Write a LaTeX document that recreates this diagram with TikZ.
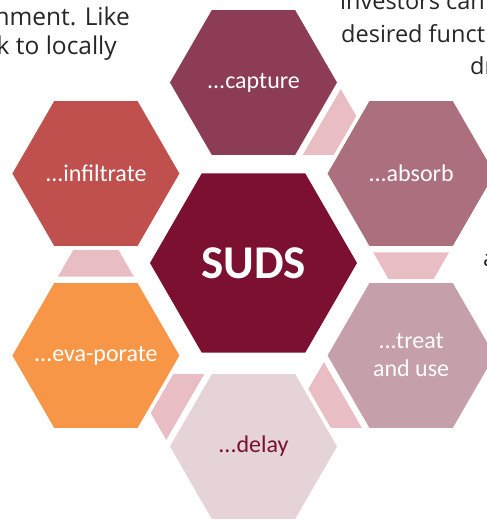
\documentclass[tikz,border=0pt]{standalone}
\usepackage{fontspec}
\setmainfont{Carlito}
\newfontfamily\pagefont{Open Sans}
\usetikzlibrary{shapes.geometric,calc}
\definecolor{sudscol}{HTML}{7B1030}
\definecolor{capcol}{HTML}{8C3D55}
\definecolor{infcol}{HTML}{C0504D}
\definecolor{abscol}{HTML}{AC6F7E}
\definecolor{evacol}{HTML}{F79646}
\definecolor{treatcol}{HTML}{C59FA9}
\definecolor{delaycol}{HTML}{E5D3D7}
\definecolor{linkpink}{HTML}{E8BEC4}
\definecolor{textgray}{HTML}{262626}

\begin{document}
\begin{tikzpicture}[x=1pt,y=1pt,
  hexa/.style={regular polygon,regular polygon sides=6,minimum size=167,inner sep=0,outer sep=0},
  hexlabel/.style={inner sep=0,text=white,align=center,font=\fontsize{24}{28}\selectfont},
  link/.style={fill=linkpink},
  page/.style={inner sep=0,text=textgray,font=\pagefont\fontsize{23.5}{32}\selectfont}]
\useasboundingbox (0,0) rectangle (487,520);
\clip (0,0) rectangle (487,520);

% text of the page around the figure
\node[page,font=\pagefont\fontsize{24.5}{32}\selectfont,anchor=base east] (lineA) at (130,494) {onment. Like};
\node[page,font=\pagefont\fontsize{24.5}{32}\selectfont,anchor=base east] (lineB) at (117,465) {k to locally};
\node[page,anchor=base west] (lineC) at (340,510) {investors can};
\node[page,anchor=base west] (lineD) at (341,477) {desired funct};
\node[page,anchor=base west] (lineE) at (470,445) {dr};
\node[page,anchor=base west] (lineF) at (483,253) {a};

% hexagons
\node[hexa,minimum size=207,fill=sudscol,label={[hexlabel,font=\bfseries\fontsize{47}{50}\selectfont]center:SUDS}] (suds) at (253.5,257) {};
\node[hexa,fill=capcol,label={[hexlabel]center:...capture}] (capture) at (253.5,437.5) {};
\node[hexa,fill=abscol,label={[hexlabel]center:...absorb}] (absorb) at (411.1,346.5) {};
\node[hexa,fill=treatcol,label={[hexlabel]center:{...treat\\and use}}] (treat) at (411.1,164.5) {};
\node[hexa,fill=delaycol,label={[hexlabel,text=sudscol]center:...delay}] (delay) at (253.5,73.5) {};
\node[hexa,fill=evacol,label={[hexlabel]center:...eva-porate}] (evaporate) at (95.9,164.5) {};
\node[hexa,fill=infcol,label={[hexlabel]center:...infiltrate}] (infiltrate) at (95.9,346.5) {};

% links between neighbours
\fill[link] ($(capture)+(-55.7:87.5)$) -- ($(capture)+(-4.3:87.5)$) -- ($(capture)+(-18:108.1)$) -- ($(capture)+(-42:108.1)$) -- cycle;
\fill[link] ($(absorb)+(-115.7:87.5)$) -- ($(absorb)+(-64.3:87.5)$) -- ($(absorb)+(-78:108.1)$) -- ($(absorb)+(-102:108.1)$) -- cycle;
\fill[link] ($(treat)+(-175.7:87.5)$) -- ($(treat)+(-124.3:87.5)$) -- ($(treat)+(-138:108.1)$) -- ($(treat)+(-162:108.1)$) -- cycle;
\fill[link] ($(delay)+(124.3:87.5)$) -- ($(delay)+(175.7:87.5)$) -- ($(delay)+(162:108.1)$) -- ($(delay)+(138:108.1)$) -- cycle;
\fill[link] ($(evaporate)+(64.3:87.5)$) -- ($(evaporate)+(115.7:87.5)$) -- ($(evaporate)+(102:108.1)$) -- ($(evaporate)+(78:108.1)$) -- cycle;
\end{tikzpicture}
\end{document}
